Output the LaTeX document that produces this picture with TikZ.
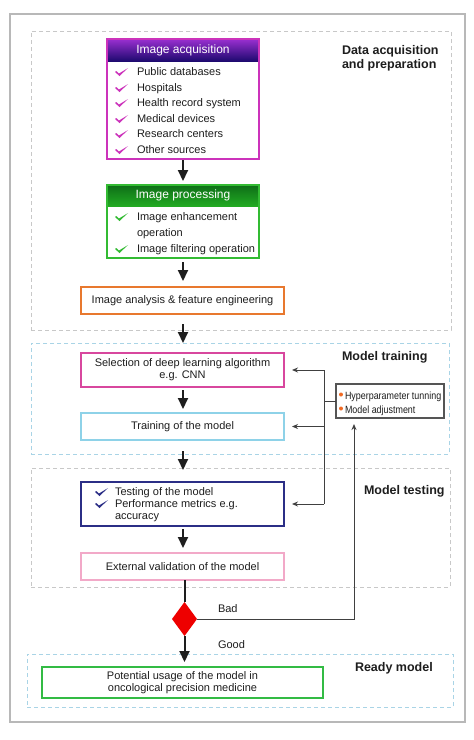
\documentclass[tikz,border=0pt]{standalone}
\usepackage{fontspec}
\setmainfont{Liberation Sans}
\usetikzlibrary{arrows.meta,shapes.geometric,calc}

\definecolor{framegray}{HTML}{B8B8B8}
\definecolor{dashgray}{HTML}{C8C8C8}
\definecolor{dashblue}{HTML}{A9D4E6}
\definecolor{acqmag}{HTML}{CC33BB}
\definecolor{acqtop}{HTML}{9A2FD0}
\definecolor{acqbot}{HTML}{1E0A70}
\definecolor{procgreen}{HTML}{33BB33}
\definecolor{proctop}{HTML}{0E6E18}
\definecolor{procbot}{HTML}{22AA22}
\definecolor{orangeb}{HTML}{E8782E}
\definecolor{selpink}{HTML}{D8479E}
\definecolor{trainblue}{HTML}{8ED2E8}
\definecolor{testnavy}{HTML}{2B2E86}
\definecolor{extpink}{HTML}{F2A9C8}
\definecolor{finalgreen}{HTML}{33BB44}
\definecolor{diamondred}{HTML}{EE0000}
\definecolor{hypgray}{HTML}{555555}
\definecolor{bulletorange}{HTML}{F06A24}
\definecolor{ink}{HTML}{1E1E1E}

\begin{document}
\begin{tikzpicture}[x=1pt,y=-1pt,
  every node/.style={inner sep=0pt, outer sep=0pt},
  txt/.style={font=\fontsize{11}{12}\selectfont, text=ink},
  item/.style={txt, anchor=base west},
  hdr/.style={font=\fontsize{12}{14}\selectfont, text=white},
  sec/.style={font=\bfseries\fontsize{12.5}{14}\selectfont, text=ink, align=left, anchor=west},
  boxst/.style={draw, line width=1.2pt, fill=white, txt, align=center},
  zone/.style={draw, dash pattern=on 4pt off 3pt, line width=0.8pt},
  flow/.style={-{Triangle[width=10pt,length=11pt]}, line width=2pt, ink},
  fbl/.style={line width=1pt, ink!85},
  fb/.style={fbl, -{Stealth[width=5pt,length=6pt]}},
  tick/.pic={\fill (0,0) -- (1.2,-1) -- (4,1.5) -- (13,-4) -- (4.5,4) -- cycle;},
]
\useasboundingbox (0,0) rectangle (474,740);
\fill[white] (0,0) rectangle (474,740);

% outer frame and zones
\node[draw=framegray, line width=2.8pt, minimum width=455pt, minimum height=708pt] (frame) at (237.5,368) {};
\node[zone, draw=dashgray, minimum width=420pt, minimum height=299pt] (zone1) at (241,180.5) {};
\node[zone, draw=dashblue, minimum width=418pt, minimum height=111pt] (zone2) at (240,398.5) {};
\node[zone, draw=dashgray, minimum width=419pt, minimum height=119pt] (zone3) at (240.5,527.5) {};
\node[zone, draw=dashblue, minimum width=426pt, minimum height=53pt] (zone4) at (240,680.5) {};

% section labels
\node[sec] (lab1) at (342,58.5) {Data acquisition\\and preparation};
\node[sec] (lab2) at (342,357) {Model training};
\node[sec] (lab3) at (364,491) {Model testing};
\node[sec] (lab4) at (355,668) {Ready model};

% image acquisition
\node[boxst, draw=acqmag, minimum width=152pt, minimum height=120pt] (acq) at (183,99) {};
\node[hdr, top color=acqtop, bottom color=acqbot, minimum width=152pt, minimum height=22pt] (acqh) at (183,50) {Image acquisition};
\draw[acqmag, line width=1.2pt] (acq.north west) rectangle (acq.south east);
\foreach \t/\yy [count=\i] in {Public databases/71, Hospitals/87, Health record system/102, Medical devices/118, Research centers/133, Other sources/149}{
  \node[item] (acqi\i) at (137,\yy+4) {\t};
  \pic[acqmag] at (115,\yy+1) {tick};
}

% image processing
\node[boxst, draw=procgreen, minimum width=152pt, minimum height=73pt] (proc) at (183,221.5) {};
\node[hdr, top color=proctop, bottom color=procbot, minimum width=152pt, minimum height=21pt] (proch) at (183,195.5) {Image processing};
\draw[procgreen, line width=1.2pt] (proc.north west) rectangle (proc.south east);
\node[item] (proci1) at (137,220) {Image enhancement};
\node[item] (proci2) at (137,236) {operation};
\node[item] (proci3) at (137,252) {Image filtering operation};
\pic[procgreen] at (115,217) {tick};
\pic[procgreen] at (115,249) {tick};

% analysis
\node[boxst, draw=orangeb, minimum width=203pt, minimum height=27pt] (ana) at (182.5,300.5) {Image analysis \& feature engineering};

% training
\node[boxst, draw=selpink, minimum width=203pt, minimum height=34pt] (sel) at (182.5,370) {Selection of deep learning algorithm\\e.g. CNN};
\node[boxst, draw=trainblue, minimum width=203pt, minimum height=27pt] (train) at (182.5,426.5) {Training of the model};

% testing
\node[boxst, draw=testnavy, minimum width=203pt, minimum height=44pt] (test) at (182.5,504) {};
\node[item] (testi1) at (115,495) {Testing of the model};
\node[item] (testi2) at (115,507) {Performance metrics e.g.};
\node[item] (testi3) at (115,519) {accuracy};
\pic[testnavy] at (95,492) {tick};
\pic[testnavy] at (95,504) {tick};
\node[boxst, draw=extpink, minimum width=203pt, minimum height=27pt] (ext) at (182.5,566.5) {External validation of the model};

% decision
\node[diamond, fill=diamondred, minimum width=25pt, minimum height=34pt] (dia) at (184.5,619) {};
\node[txt, anchor=base west] (bad) at (218,612) {Bad};
\node[txt, anchor=base west] (good) at (218,648) {Good};

% final
\node[boxst, draw=finalgreen, minimum width=281pt, minimum height=31pt] (final) at (182.5,682.5) {Potential usage of the model in\\oncological precision medicine};

% hyperparameter box
\node[draw=hypgray, line width=1.1pt, fill=white, minimum width=108pt, minimum height=34pt] (hyp) at (390,401) {};
\node[anchor=base west, font=\fontsize{10.5}{12}\selectfont, text=ink] (hyp1) at (345,399) {\scalebox{0.85}[1]{Hyperparameter tunning}};
\node[anchor=base west, font=\fontsize{10.5}{12}\selectfont, text=ink] (hyp2) at (345,413) {\scalebox{0.85}[1]{Model adjustment}};
\fill[bulletorange] (341,394.5) circle (2pt);
\fill[bulletorange] (341,408.5) circle (2pt);

% flow arrows
\draw[flow, shorten <=1pt, shorten >=4pt] (acq.south) -- (proc.north);
\draw[flow, shorten <=4pt, shorten >=6pt] (proc.south) -- (proc.south |- ana.north);
\draw[flow, shorten <=10pt, shorten >=10pt] (proc.south |- ana.south) -- (proc.south |- sel.north);
\draw[flow, shorten <=3pt, shorten >=4pt] (proc.south |- sel.south) -- (proc.south |- train.north);
\draw[flow, shorten <=11pt, shorten >=12pt] (proc.south |- train.south) -- (proc.south |- test.north);
\draw[flow, shorten <=3pt, shorten >=5pt] (proc.south |- test.south) -- (proc.south |- ext.north);
\draw[line width=2pt, ink] (ext.south -| dia.north) -- (dia.north);
\draw[flow, shorten >=5pt] (dia.south) -- (dia.south |- final.north);

% feedback
\coordinate (vtop) at (324,370);
\coordinate (vbot) at (324,504);
\coordinate (hypin) at ($(hyp.south west)!0.1667!(hyp.south east)$);
\draw[fbl] (vtop) -- (vbot);
\draw[fb, shorten >=8pt] (vtop) -- (sel.east);
\draw[fb, shorten >=8pt] (vtop |- train.east) -- (train.east);
\draw[fb, shorten >=8pt] (vbot) -- (test.east);
\draw[fbl] (vtop |- hyp.west) -- (hyp.west);
\draw[fb, shorten >=6pt] (dia.east) -- (dia.east -| hypin) -- (hypin);
\end{tikzpicture}
\end{document}
